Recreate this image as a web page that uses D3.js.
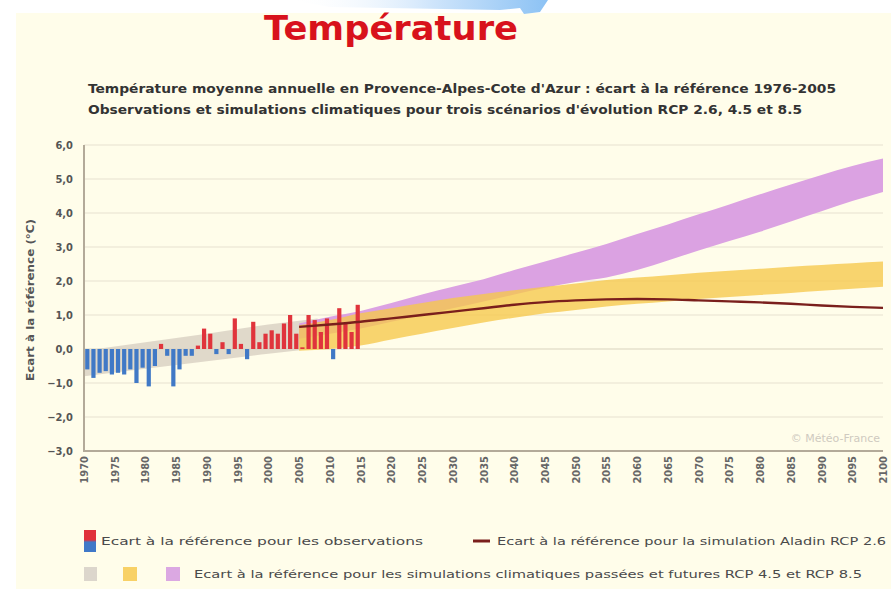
<!DOCTYPE html>
<html>
<head>
<meta charset="utf-8">
<script src="https://cdn.jsdelivr.net/npm/d3@7"></script>
<style>
  html, body { margin: 0; padding: 0; background: #ffffff; }
  svg { display: block; }
</style>
</head>
<body>
<svg id="chart" width="891" height="589"></svg>
<script>
// Observed annual mean temperature anomaly (°C) vs 1976-2005, Provence-Alpes-Côte d'Azur
const obsYears = [1970,1971,1972,1973,1974,1975,1976,1977,1978,1979,
                  1980,1981,1982,1983,1984,1985,1986,1987,1988,1989,
                  1990,1991,1992,1993,1994,1995,1996,1997,1998,1999,
                  2000,2001,2002,2003,2004,2005,2006,2007,2008,2009,
                  2010,2011,2012,2013,2014];
const obsValues = [-0.6,-0.85,-0.7,-0.65,-0.75,-0.7,-0.75,-0.6,-1.0,-0.55,
                   -1.1,-0.5,0.15,-0.2,-1.1,-0.6,-0.2,-0.2,0.1,0.6,
                   0.45,-0.15,0.2,-0.15,0.9,0.15,-0.3,0.8,0.2,0.45,
                   0.55,0.45,0.75,1.0,0.45,0.05,1.0,0.85,0.5,0.9,
                   -0.3,1.2,0.75,0.5,1.3];

// Past simulations envelope (grey)
const histYears = [1970, 1980, 1990, 2000, 2008];
const histLow   = [-0.8, -0.58, -0.36, -0.14, 0.02];
const histHigh  = [-0.05, 0.2, 0.45, 0.72, 0.9];

// Future simulations envelopes (RCP 4.5 yellow, RCP 8.5 purple) and Aladin RCP 2.6 line
const scenYears = [2005,2010,2015,2020,2025,2030,2035,2040,2045,2050,
                   2055,2060,2065,2070,2075,2080,2085,2090,2095,2100];
const rcp45Low  = [-0.05,0.0,0.1,0.28,0.45,0.62,0.78,0.92,1.05,1.15,
                   1.25,1.33,1.4,1.47,1.53,1.59,1.65,1.71,1.77,1.83];
const rcp45High = [0.7,0.85,1.05,1.2,1.35,1.5,1.62,1.73,1.83,1.93,
                   2.03,2.1,2.17,2.24,2.3,2.36,2.42,2.47,2.52,2.57];
const rcp85Low  = [0.3,0.45,0.6,0.8,1.0,1.2,1.4,1.6,1.8,1.97,
                   2.1,2.32,2.6,2.9,3.18,3.45,3.75,4.05,4.35,4.62];
const rcp85High = [0.75,0.95,1.12,1.35,1.6,1.83,2.05,2.32,2.57,2.83,
                   3.09,3.38,3.66,3.96,4.25,4.55,4.84,5.12,5.38,5.6];
const aladin26  = [0.65,0.72,0.8,0.9,1.0,1.1,1.2,1.3,1.38,1.43,
                   1.46,1.47,1.46,1.43,1.4,1.37,1.33,1.28,1.24,1.21];

// Axis ticks
const yTicks = [-3, -2, -1, 0, 1, 2, 3, 4, 5, 6];
const xTicks = [1970,1975,1980,1985,1990,1995,2000,2005,2010,2015,2020,2025,2030,2035,
                2040,2045,2050,2055,2060,2065,2070,2075,2080,2085,2090,2095,2100];

const svg = d3.select("#chart");

// Page panel
svg.append("rect").attr("x", 16).attr("y", 13).attr("width", 875).attr("height", 576)
   .attr("fill", "#fffdea");

// Blue tab at the top edge
const defs = svg.append("defs");
const tabGrad = defs.append("linearGradient").attr("id", "tabGrad")
  .attr("x1", "0%").attr("x2", "100%").attr("y1", "0%").attr("y2", "0%");
tabGrad.append("stop").attr("offset", "0%").attr("stop-color", "#ffffff").attr("stop-opacity", 0);
tabGrad.append("stop").attr("offset", "55%").attr("stop-color", "#cfe5fb");
tabGrad.append("stop").attr("offset", "100%").attr("stop-color", "#8cc2f4");
svg.append("path")
   .attr("d", "M290,0 L548,0 L540,12 L524,14 L520,8 L500,10 L330,7 Z")
   .attr("fill", "url(#tabGrad)");

const obsGrad = defs.append("linearGradient").attr("id", "obsGrad")
  .attr("x1", "0%").attr("x2", "0%").attr("y1", "0%").attr("y2", "100%");
obsGrad.append("stop").attr("offset", "0%").attr("stop-color", "#e0303a");
obsGrad.append("stop").attr("offset", "45%").attr("stop-color", "#e0303a");
obsGrad.append("stop").attr("offset", "55%").attr("stop-color", "#3f78c8");
obsGrad.append("stop").attr("offset", "100%").attr("stop-color", "#3f78c8");

// Title and subtitles
svg.append("text").attr("x", 264).attr("y", 40)
   .attr("font-family", "DejaVu Sans").attr("font-weight", "bold").attr("font-size", 33)
   .attr("fill", "#d8121c").attr("textLength", 254).attr("lengthAdjust", "spacingAndGlyphs")
   .text("Température");

svg.append("text").attr("x", 88).attr("y", 93)
   .attr("font-family", "DejaVu Sans Condensed, DejaVu Sans").attr("font-weight", "bold").attr("font-size", 12)
   .attr("fill", "#333333").attr("textLength", 748).attr("lengthAdjust", "spacingAndGlyphs")
   .text("Température moyenne annuelle en Provence-Alpes-Cote d'Azur : écart à la référence 1976-2005");

svg.append("text").attr("x", 88).attr("y", 114)
   .attr("font-family", "DejaVu Sans Condensed, DejaVu Sans").attr("font-weight", "bold").attr("font-size", 12)
   .attr("fill", "#333333").attr("textLength", 714).attr("lengthAdjust", "spacingAndGlyphs")
   .text("Observations et simulations climatiques pour trois scénarios d'évolution RCP 2.6, 4.5 et 8.5");

// Scales
const x = d3.scaleLinear().domain([1970, 2100]).range([84, 883]);
const y = d3.scaleLinear().domain([-3, 6]).range([451, 145]);
const fmt = v => d3.format(".1f")(v).replace(".", ",");

// Gridlines
svg.append("g").selectAll("line").data(yTicks.filter(t => t > -3)).join("line")
   .attr("x1", x(1970)).attr("x2", x(2100))
   .attr("y1", d => y(d)).attr("y2", d => y(d))
   .attr("stroke", d => d === 0 ? "#e6e0cc" : "#efead8").attr("stroke-width", 1.5);

// Envelopes
const area = (xs, lo, hi) => d3.area()
  .x((d, i) => x(xs[i])).y0((d, i) => y(lo[i])).y1((d, i) => y(hi[i]))
  .curve(d3.curveMonotoneX)(xs);

svg.append("path").attr("d", area(histYears, histLow, histHigh))
   .attr("fill", "#d8d0c2").attr("opacity", 0.8);
svg.append("path").attr("d", area(scenYears, rcp85Low, rcp85High))
   .attr("fill", "#dba2e2");
svg.append("path").attr("d", area(scenYears, rcp45Low, rcp45High))
   .attr("fill", "#f6c84a").attr("opacity", 0.78);

// Observation bars
svg.append("g").selectAll("rect").data(obsValues).join("rect")
   .attr("x", (d, i) => x(obsYears[i]) + 1.2)
   .attr("width", 4.2)
   .attr("y", d => y(Math.max(0, d)))
   .attr("height", d => Math.abs(y(d) - y(0)))
   .attr("fill", d => d >= 0 ? "#e0343c" : "#4079c6");

// Aladin RCP 2.6
svg.append("path")
   .attr("d", d3.line().x((d, i) => x(scenYears[i])).y(d => y(d)).curve(d3.curveMonotoneX)(aladin26))
   .attr("fill", "none").attr("stroke", "#7a1f1c").attr("stroke-width", 2.4);

// Axes
const axisColor = "#b3aa99";
svg.append("line").attr("x1", x(1970)).attr("x2", x(1970)).attr("y1", y(6)).attr("y2", y(-3) + 1)
   .attr("stroke", axisColor).attr("stroke-width", 2);
svg.append("line").attr("x1", x(1970)).attr("x2", x(2100)).attr("y1", y(-3)).attr("y2", y(-3))
   .attr("stroke", axisColor).attr("stroke-width", 2);

svg.append("g").selectAll("text").data(yTicks).join("text")
   .attr("x", 73).attr("y", d => y(d) + 4)
   .attr("text-anchor", "end")
   .attr("font-family", "DejaVu Sans Condensed, DejaVu Sans").attr("font-weight", "bold").attr("font-size", 11)
   .attr("fill", "#555555")
   .text(fmt);

svg.append("g").selectAll("text").data(xTicks).join("text")
   .attr("transform", d => `translate(${x(d) + 4},456) rotate(-90)`)
   .attr("text-anchor", "end")
   .attr("font-family", "DejaVu Sans Condensed, DejaVu Sans").attr("font-weight", "bold").attr("font-size", 11)
   .attr("fill", "#666666")
   .text(d => d);

svg.append("text")
   .attr("transform", "translate(34,300) rotate(-90)")
   .attr("text-anchor", "middle")
   .attr("font-family", "DejaVu Sans Condensed, DejaVu Sans").attr("font-weight", "bold").attr("font-size", 11)
   .attr("fill", "#555555").attr("textLength", 162).attr("lengthAdjust", "spacingAndGlyphs")
   .text("Ecart à la référence (°C)");

// Credit
svg.append("text").attr("x", 880).attr("y", 442).attr("text-anchor", "end")
   .attr("font-family", "DejaVu Sans").attr("font-size", 11).attr("fill", "#cfcac0")
   .text("© Météo-France");

// Legend
const lg = svg.append("g").attr("font-family", "DejaVu Sans Condensed, DejaVu Sans")
   .attr("font-size", 11).attr("fill", "#4a4a4a");
lg.append("rect").attr("x", 84).attr("y", 530).attr("width", 12).attr("height", 22).attr("fill", "url(#obsGrad)");
lg.append("text").attr("x", 101).attr("y", 545).attr("textLength", 322).attr("lengthAdjust", "spacingAndGlyphs")
  .text("Ecart à la référence pour les observations");
lg.append("line").attr("x1", 473).attr("x2", 490).attr("y1", 541).attr("y2", 541)
  .attr("stroke", "#7a1f1c").attr("stroke-width", 3);
lg.append("text").attr("x", 497).attr("y", 545).attr("textLength", 389).attr("lengthAdjust", "spacingAndGlyphs")
  .text("Ecart à la référence pour la simulation Aladin RCP 2.6");
lg.append("rect").attr("x", 84).attr("y", 567).attr("width", 13).attr("height", 14).attr("fill", "#dcd6cc");
lg.append("rect").attr("x", 123).attr("y", 567).attr("width", 14).attr("height", 14).attr("fill", "#f8d166");
lg.append("rect").attr("x", 166).attr("y", 567).attr("width", 14).attr("height", 14).attr("fill", "#dba8e2");
lg.append("text").attr("x", 194).attr("y", 578).attr("textLength", 668).attr("lengthAdjust", "spacingAndGlyphs")
  .text("Ecart à la référence pour les simulations climatiques passées et futures RCP 4.5 et RCP 8.5");
</script>
</body>
</html>
